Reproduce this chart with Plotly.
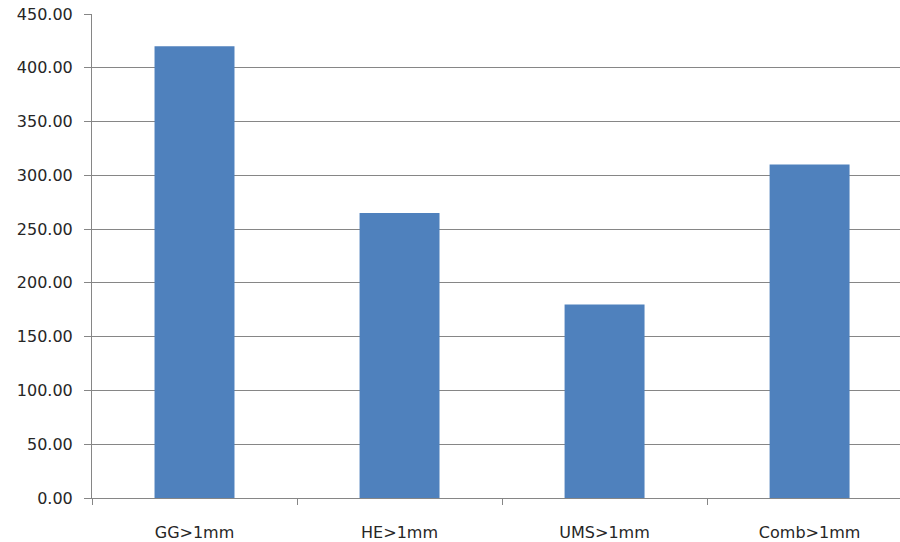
import plotly.graph_objects as go

# Particle counts per treatment (> 1 mm)
categories = ["GG>1mm", "HE>1mm", "UMS>1mm", "Comb>1mm"]
values = [420.0, 265.0, 180.0, 310.0]
y_ticks = [0, 50, 100, 150, 200, 250, 300, 350, 400, 450]

fig = go.Figure(
    go.Bar(
        x=categories,
        y=values,
        marker=dict(color="#4F81BD", line=dict(width=0)),
        width=0.39,
    )
)

font = dict(family="DejaVu Sans", size=16, color="#262626")

fig.update_layout(
    width=900,
    height=542,
    margin=dict(l=92, r=0, t=14, b=44),
    plot_bgcolor="white",
    paper_bgcolor="white",
    showlegend=False,
    font=font,
    xaxis=dict(
        type="category",
        range=[-0.5, 3.441],
        showgrid=False,
        showline=True,
        linecolor="#868686",
        linewidth=1,
        ticks="outside",
        tickson="boundaries",
        ticklen=6,
        tickcolor="#868686",
        ticklabelstandoff=20,
        zeroline=False,
    ),
    yaxis=dict(
        range=[0, 450],
        tickvals=y_ticks,
        ticktext=[f"{v:.2f}" for v in y_ticks],
        showgrid=True,
        gridcolor="#868686",
        gridwidth=1,
        showline=True,
        linecolor="#868686",
        linewidth=1,
        ticks="outside",
        ticklen=7,
        tickcolor="#868686",
        ticklabelstandoff=8,
        zeroline=False,
    ),
)

fig.write_html("out.html")
